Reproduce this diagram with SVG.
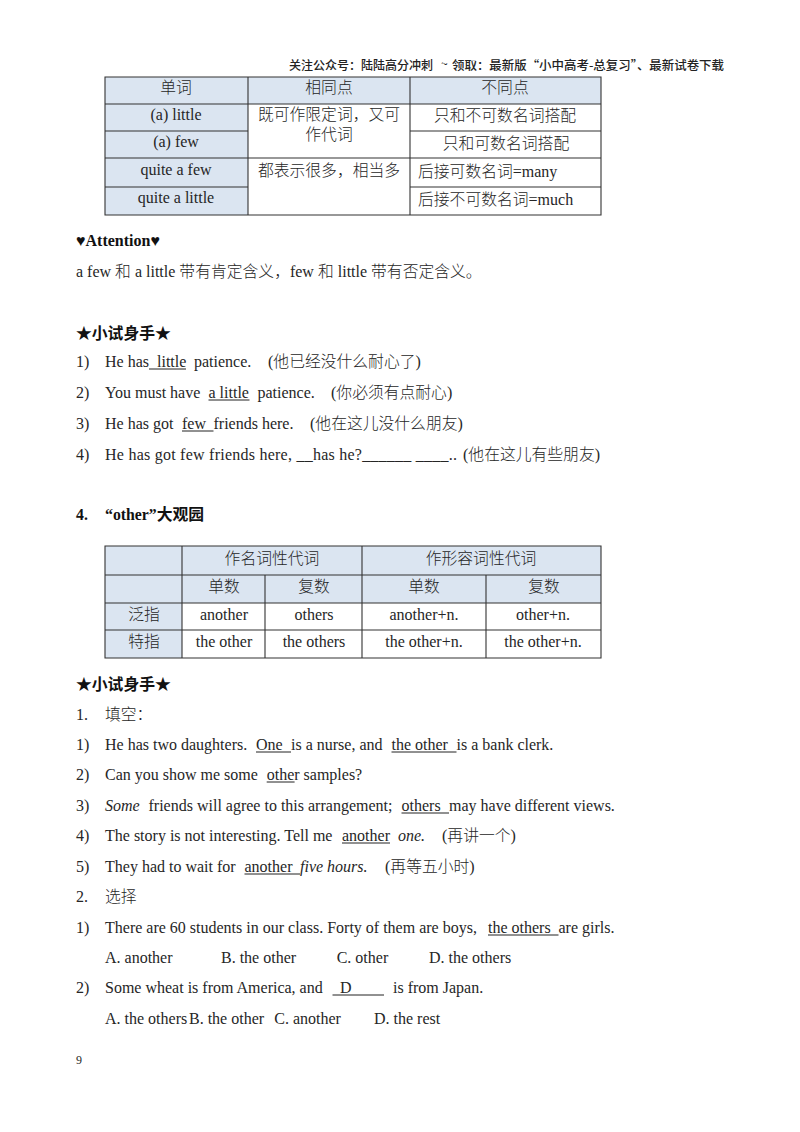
<svg xmlns="http://www.w3.org/2000/svg" width="800" height="1132" viewBox="0 0 800 1132">
<style>
text{font-family:"Liberation Serif","Noto Sans CJK SC",serif;font-size:16px;fill:#262626;transform:translate(0,.5px)}
.c{font-family:"Noto Sans CJK SC",sans-serif;font-size:15.8px;font-weight:300}
.b{font-weight:700;fill:#111}
.bc{font-family:"Liberation Serif","Noto Sans CJK SC",sans-serif;font-weight:700;font-size:15.8px;fill:#111}
.i{font-style:italic}
.m{text-anchor:middle}
.h{font-family:"Noto Sans CJK SC",sans-serif;font-size:12px;font-weight:500;fill:#222}
.f{fill:#dbe5f1}
.g{stroke:#333;stroke-width:1.1;fill:none}
.u{stroke:#222;stroke-width:1;fill:none}
</style>
<rect width="800" height="1132" fill="#fff"/>
<g id="header">
<text class="h" x="289" y="69" textLength="144" lengthAdjust="spacingAndGlyphs">关注公众号：陆陆高分冲刺</text>
<text class="h" x="441" y="67">~</text>
<text class="h" x="452" y="69" textLength="272" lengthAdjust="spacingAndGlyphs">领取：最新版“小中高考-总复习”、最新试卷下载</text>
</g>
<g id="table1">
<rect class="f" x="105" y="77" width="143" height="138"/>
<rect class="f" x="248" y="77" width="353" height="27"/>
<path class="g" d="M105 77H601V215H105ZM248 77V215M410 77V215M105 104H601M105 131H248M410 131H601M105 158H601M105 187H248M410 187H601"/>
<text class="c m" x="176" y="92">单词</text>
<text class="c m" x="329" y="92">相同点</text>
<text class="c m" x="505" y="92">不同点</text>
<text class="m" x="176" y="119">(a) little</text>
<text class="m" x="176" y="146">(a) few</text>
<text class="m" x="176" y="174">quite a few</text>
<text class="m" x="176" y="202">quite a little</text>
<text class="c m" x="329" y="119.500">既可作限定词，又可<tspan x="329" dy="20">作代词</tspan></text>
<text class="c m" x="329" y="175">都表示很多，相当多</text>
<text class="c m" x="505" y="120">只和不可数名词搭配</text>
<text class="c m" x="506" y="148">只和可数名词搭配</text>
<text x="418" y="176"><tspan class="c">后接可数名词</tspan>=many</text>
<text x="418" y="204"><tspan class="c">后接不可数名词</tspan>=much</text>
</g>
<g id="attention">
<text class="b" x="76" y="245">♥Attention♥</text>
<text x="76" y="276">a few <tspan class="c">和</tspan> a little <tspan class="c">带有肯定含义，</tspan>few <tspan class="c">和</tspan> little <tspan class="c">带有否定含义。</tspan></text>
</g>
<g id="exercise1">
<text class="bc" x="76" y="338">★小试身手★</text>
<text x="76" y="366">1)</text><text x="105" y="366">He has</text><text x="157" y="366">little</text><text x="194" y="366">patience.</text><text x="268" y="366">(<tspan class="c">他已经没什么耐心了</tspan>)</text>
<text x="76" y="397">2)</text><text x="105" y="397">You must have</text><text x="208.500" y="397">a little</text><text x="257.500" y="397">patience.</text><text x="331" y="397">(<tspan class="c">你必须有点耐心</tspan>)</text>
<text x="76" y="428">3)</text><text x="105" y="428">He has got</text><text x="182" y="428">few</text><text x="213.500" y="428">friends here.</text><text x="310" y="428">(<tspan class="c">他在这儿没什么朋友</tspan>)</text>
<text x="76" y="459">4)</text><text x="105" y="459" textLength="352" lengthAdjust="spacing">He has got few friends here, __has he?______ ____..</text><text x="463" y="459">(<tspan class="c">他在这儿有些朋友</tspan>)</text>
<path class="u" d="M149 369H186M208.500 400H249.500M182 431H213.500"/>
</g>
<g id="section4">
<text class="bc" x="76" y="519">4.</text>
<text class="bc" x="105" y="519">“other”大观园</text>
</g>
<g id="table2">
<rect class="f" x="105" y="546" width="496" height="57"/>
<rect class="f" x="105" y="603" width="77" height="55"/>
<path class="g" d="M105 546H601V658H105ZM182 546V658M362 546V658M265 575V658M486 575V658M105 575H601M105 603H601M105 630H601"/>
<text class="c m" x="272" y="563">作名词性代词</text>
<text class="c m" x="481" y="563">作形容词性代词</text>
<text class="c m" x="224" y="591">单数</text>
<text class="c m" x="314" y="591">复数</text>
<text class="c m" x="424" y="591">单数</text>
<text class="c m" x="544" y="591">复数</text>
<text class="c m" x="144" y="619">泛指</text>
<text class="c m" x="144" y="646">特指</text>
<text class="m" x="224" y="619">another</text>
<text class="m" x="314" y="619">others</text>
<text class="m" x="424" y="619">another+n.</text>
<text class="m" x="543" y="619">other+n.</text>
<text class="m" x="224" y="646">the other</text>
<text class="m" x="314" y="646">the others</text>
<text class="m" x="424" y="646">the other+n.</text>
<text class="m" x="543" y="646">the other+n.</text>
</g>
<g id="exercise2">
<text class="bc" x="76" y="689">★小试身手★</text>
<text x="76" y="719">1.</text><text class="c" x="105" y="719">填空：</text>
<text x="76" y="749">1)</text><text x="105" y="749">He has two daughters.</text><text x="256" y="749">One</text><text x="291" y="749">is a nurse, and</text><text x="391.500" y="749">the other</text><text x="456.500" y="749">is a bank clerk.</text>
<text x="76" y="779">2)</text><text x="105" y="779">Can you show me some</text><text x="266.700" y="779">other samples?</text>
<text x="76" y="810">3)</text><text class="i" x="105" y="810">Some</text><text x="148.500" y="810">friends will agree to this arrangement;</text><text x="401.500" y="810">others</text><text x="449" y="810">may have different views.</text>
<text x="76" y="840">4)</text><text x="105" y="840">The story is not interesting. Tell me</text><text x="342" y="840">another</text><text class="i" x="398" y="840">one.</text><text x="442" y="840">(<tspan class="c">再讲一个</tspan>)</text>
<text x="76" y="871">5)</text><text x="105" y="871">They had to wait for</text><text x="244.500" y="871">another</text><text class="i" x="300" y="871">five hours.</text><text x="385" y="871">(<tspan class="c">再等五小时</tspan>)</text>
<text x="76" y="901">2.</text><text class="c" x="105" y="901">选择</text>
<text x="76" y="932">1)</text><text x="105" y="932">There are 60 students in our class. Forty of them are boys,</text><text x="488" y="932">the others</text><text x="558.500" y="932">are girls.</text>
<text x="105" y="962">A. another</text><text x="221" y="962">B. the other</text><text x="336.700" y="962">C. other</text><text x="429" y="962">D. the others</text>
<text x="76" y="992">2)</text><text x="105" y="992">Some wheat is from America, and</text><text x="340" y="992">D</text><text x="393" y="992">is from Japan.</text>
<text x="105" y="1023">A. the others</text><text x="189" y="1023">B. the other</text><text x="274.300" y="1023">C. another</text><text x="374" y="1023">D. the rest</text>
<path class="u" d="M256 752H291M391.500 752H456.500M266.700 782H294.600M401.500 813H449M342 843H390M244.500 874H300M488 935H558.500M332.500 995H384"/>
</g>
<g id="footer"><text x="76" y="1063" style="font-size:12px">9</text></g>
</svg>
